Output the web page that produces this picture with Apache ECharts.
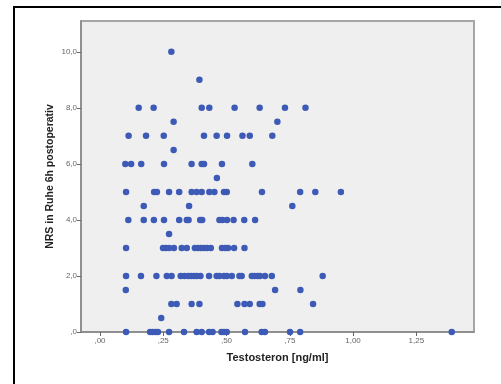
<!DOCTYPE html>
<html><head><meta charset="utf-8">
<script src="https://cdn.jsdelivr.net/npm/echarts@6/dist/echarts.min.js"></script>
<style>html,body{margin:0;padding:0;background:#fff}#c{width:501px;height:384px}</style>
</head><body><div id="c"></div>
<script>
// Testosteron values (ng/ml) for each NRS level
const nrs10 = [0.282];
const nrs9 = [0.393];
const nrs8 = [0.153, 0.212, 0.402, 0.432, 0.532, 0.631, 0.731, 0.812];
const nrs75 = [0.291, 0.701];
const nrs7 = [0.113, 0.182, 0.252, 0.411, 0.461, 0.502, 0.563, 0.592, 0.681];
const nrs65 = [0.291];
const nrs6 = [0.100, 0.123, 0.163, 0.253, 0.362, 0.402, 0.411, 0.482, 0.602];
const nrs55 = [0.462];
const nrs5 = [0.103, 0.214, 0.225, 0.273, 0.313, 0.362, 0.382, 0.402, 0.432, 0.452, 0.490, 0.501, 0.640, 0.791, 0.851, 0.952];
const nrs45 = [0.173, 0.352, 0.760];
const nrs4 = [0.112, 0.173, 0.213, 0.253, 0.313, 0.343, 0.350, 0.396, 0.404, 0.472, 0.484, 0.502, 0.528, 0.570, 0.613];
const nrs35 = [0.273];
const nrs3 = [0.103, 0.249, 0.261, 0.273, 0.292, 0.323, 0.343, 0.375, 0.387, 0.399, 0.411, 0.423, 0.438, 0.482, 0.494, 0.506, 0.530, 0.571];
const nrs2 = [0.103, 0.162, 0.223, 0.264, 0.283, 0.319, 0.334, 0.348, 0.360, 0.372, 0.383, 0.397, 0.431, 0.461, 0.472, 0.490, 0.501, 0.521, 0.551, 0.560, 0.600, 0.611, 0.623, 0.632, 0.652, 0.679, 0.880];
const nrs15 = [0.102, 0.692, 0.792];
const nrs1 = [0.282, 0.303, 0.362, 0.393, 0.543, 0.571, 0.592, 0.631, 0.642, 0.842];
const nrs05 = [0.242];
const nrs0 = [0.103, 0.198, 0.208, 0.219, 0.229, 0.273, 0.332, 0.382, 0.402, 0.431, 0.445, 0.480, 0.490, 0.501, 0.573, 0.639, 0.652, 0.751, 0.791, 1.390];

const levels = [
  [10, nrs10], [9, nrs9], [8, nrs8], [7.5, nrs75], [7, nrs7], [6.5, nrs65], [6, nrs6], [5.5, nrs55],
  [5, nrs5], [4.5, nrs45], [4, nrs4], [3.5, nrs35], [3, nrs3], [2, nrs2], [1.5, nrs15], [1, nrs1], [0.5, nrs05], [0, nrs0]
];
const xTicks = [0, 0.25, 0.5, 0.75, 1.0, 1.25];
const yTicks = [0, 2, 4, 6, 8, 10];
const xTitle = 'Testosteron [ng/ml]';
const yTitle = 'NRS in Ruhe 6h postoperativ';

const points = [];
levels.forEach(([y, xs]) => xs.forEach(x => points.push([x, y])));

const de = (v, d) => v.toFixed(d).replace('.', ',').replace(/^0,/, ',');
const font = 'Liberation Sans, Arial, sans-serif';

const chart = echarts.init(document.getElementById('c'), null, {renderer: 'canvas'});
chart.setOption({
  animation: false,
  graphic: [{
    type: 'rect', left: 13, top: 6, z: -10,
    shape: {x: 0, y: 0, width: 520, height: 400},
    style: {fill: '#fff', stroke: '#000', lineWidth: 2}
  }],
  grid: {
    left: 81, top: 21, width: 393, height: 311,
    show: true, backgroundColor: '#efefef', borderColor: '#a6a6a6', borderWidth: 2
  },
  xAxis: {
    type: 'value', min: -0.075, max: 1.478,
    name: xTitle, nameLocation: 'middle', nameGap: 20, nameMoveOverlap: false,
    nameTextStyle: {fontFamily: font, fontSize: 11, fontWeight: 'bold', color: '#222'},
    splitLine: {show: false},
    axisLine: {show: true, onZero: false, lineStyle: {color: '#888', width: 1.5}},
    axisTick: {show: true, customValues: xTicks, length: 4, lineStyle: {color: '#666'}},
    axisLabel: {customValues: xTicks, formatter: v => de(v, 2), fontFamily: font, fontSize: 8, color: '#666', margin: 5}
  },
  yAxis: {
    type: 'value', min: 0, max: 11.1,
    name: yTitle, nameLocation: 'middle', nameGap: 25, nameRotate: 90, nameMoveOverlap: false,
    nameTextStyle: {fontFamily: font, fontSize: 10.5, fontWeight: 'bold', color: '#222'},
    splitLine: {show: false},
    axisLine: {show: true, onZero: false, lineStyle: {color: '#888', width: 1.5}},
    axisTick: {show: true, customValues: yTicks, length: 4, lineStyle: {color: '#666'}},
    axisLabel: {customValues: yTicks, formatter: v => de(v, 1), fontFamily: font, fontSize: 8, color: '#666', margin: 4}
  },
  series: [{
    type: 'scatter', data: points, symbolSize: 6.5,
    itemStyle: {color: '#3d5bb6', opacity: 1}
  }]
});
</script></body></html>
